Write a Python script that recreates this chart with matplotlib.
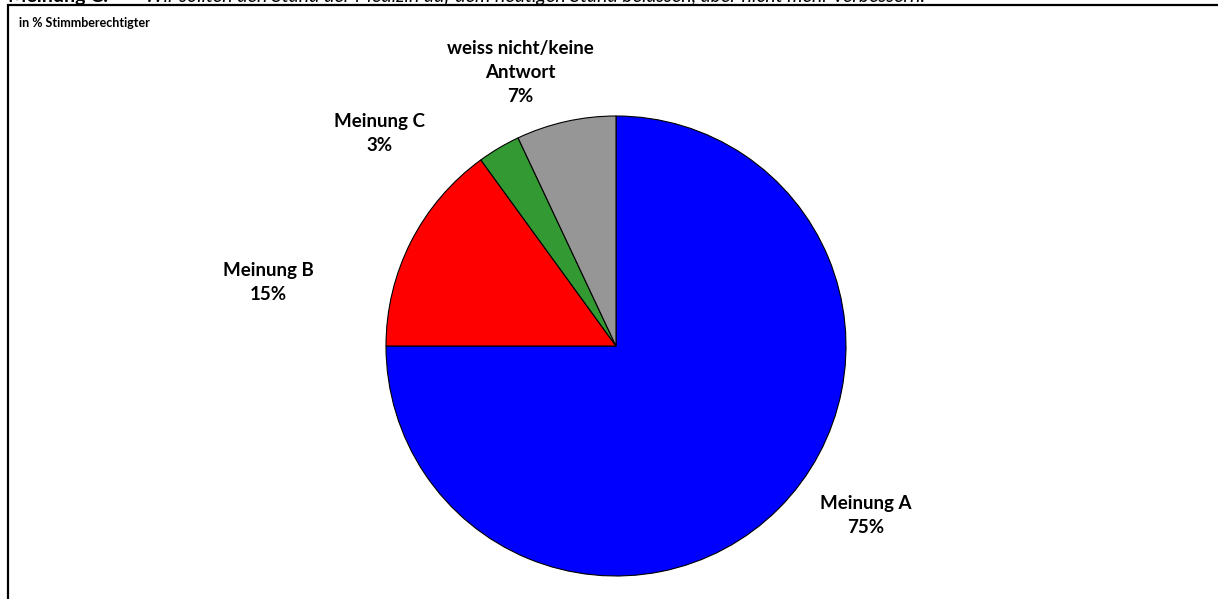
import matplotlib.pyplot as plt
from matplotlib.patches import Rectangle

# data
categories = ["Meinung A", "Meinung B", "Meinung C", "weiss nicht/keine\nAntwort"]
shares = [75, 15, 3, 7]
colors = ["#0000ff", "#ff0000", "#339933", "#969696"]

# label positions in pie units (centre 0,0 radius 1)
label_pos = [(1.087, -0.739), (-1.513, 0.274), (-1.03, 0.922), (-0.417, 1.19)]

W, H = 1218, 599
fig = plt.figure(figsize=(W / 100, H / 100), dpi=100)
plt.rcParams["font.family"] = ["Lato", "DejaVu Sans"]

# frame (cut off at right and bottom like the source)
fig.patches.append(Rectangle((8 / W, -0.1), 1.2, 1 - 5 / H + 0.1, transform=fig.transFigure,
                             fill=False, edgecolor="black", linewidth=1.6))

# clipped heading line at the very top
fig.text(8 / W, 1 - 2 / H, "Meinung C:", fontsize=14, fontweight="bold", va="baseline")
fig.text(145 / W, 1 - 2 / H,
         "Wir sollten den Stand der Medizin auf dem heutigen Stand belassen, aber nicht mehr verbessern.",
         fontsize=14, style="italic", va="baseline")

fig.text(19 / W, 1 - 27 / H, "in % Stimmberechtigter", fontsize=9, fontweight="bold")

cx, cy, r = 616, 346, 230
ax = fig.add_axes([(cx - r) / W, (H - cy - r) / H, 2 * r / W, 2 * r / H])
ax.pie(shares, colors=colors, startangle=90, counterclock=False,
       wedgeprops=dict(edgecolor="black", linewidth=0.8))
ax.set_xlim(-1, 1)
ax.set_ylim(-1, 1)
ax.axis("off")

for cat, val, (x, y) in zip(categories, shares, label_pos):
    ax.text(x, y, f"{cat}\n{val}%", ha="center", va="center", fontsize=13.5,
            fontweight="bold", linespacing=1.5, clip_on=False)

fig.savefig("out.png", dpi=100)
